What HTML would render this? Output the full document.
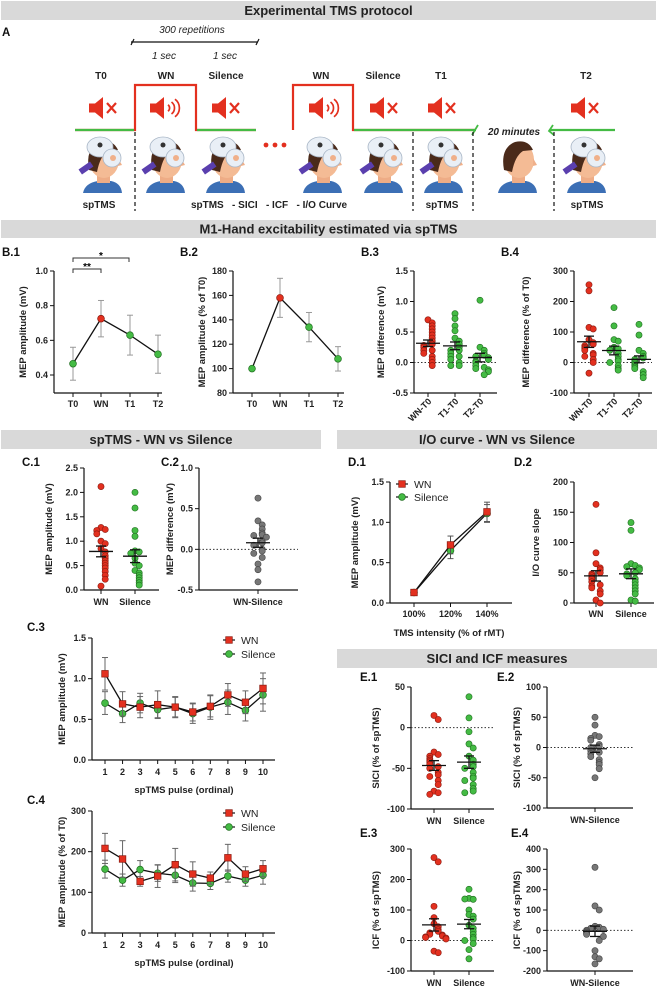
<!DOCTYPE html>
<html><head><meta charset="utf-8"><style>
html,body{margin:0;padding:0;background:#fff;}
svg{display:block;font-family:"Liberation Sans",Arial,sans-serif;}
</style></head><body>
<svg id="fig" width="657" height="991" viewBox="0 0 657 991"></svg>
<script>
// ===== DATA =====
const b1Cats=['T0','WN','T1','T2'];
const b1Mean=[0.465,0.725,0.63,0.52];
const b1Err=[0.095,0.105,0.115,0.11];
const b1Ticks=[0.4,0.6,0.8,1.0];
const b2Cats=['T0','WN','T1','T2'];
const b2Mean=[100,158,134,108];
const b2Err=[0,16,12,10];
const b2Ticks=[80,100,120,140,160,180];
const b3Cats=['WN-T0','T1-T0','T2-T0'];
const b3WN=[0.7,0.65,0.6,0.55,0.5,0.45,0.4,0.35,0.3,0.28,0.25,0.2,0.2,0.15,0.1,0.05,0.0,-0.05];
const b3T1=[0.8,0.72,0.6,0.52,0.4,0.35,0.3,0.25,0.2,0.2,0.15,0.1,0.1,0.05,0.0,-0.05,-0.05];
const b3T2=[1.02,0.25,0.2,0.15,0.12,0.1,0.08,0.05,0.02,0.0,-0.05,-0.08,-0.1,-0.12,-0.15,-0.2];
const b3Ticks=[-0.5,0.0,0.5,1.0,1.5];
const b4WN=[255,235,115,110,75,65,60,55,50,45,40,30,25,20,10,0,-35];
const b4T1=[180,120,75,70,50,45,40,30,20,10,5,0,-10,-20,-25];
const b4T2=[125,90,40,30,20,15,10,5,0,-5,-10,-15,-20,-30,-40,-50];
const b4Ticks=[-100,0,100,200,300];
const c1Cats=['WN','Silence'];
const c1WN=[2.12,1.28,1.24,1.22,1.15,1.0,0.95,0.85,0.78,0.7,0.65,0.6,0.55,0.5,0.45,0.38,0.3,0.22,0.08];
const c1Sil=[2.0,1.68,1.22,1.1,0.8,0.78,0.75,0.65,0.55,0.5,0.4,0.35,0.3,0.25,0.2,0.15,0.1];
const c1Ticks=[0,0.5,1.0,1.5,2.0,2.5];
const c2Cats=['WN-Silence'];
const c2Diff=[0.63,0.35,0.3,0.25,0.2,0.18,0.17,0.15,0.1,0.08,0.05,0.0,-0.02,-0.05,-0.1,-0.18,-0.25,-0.4];
const c2Ticks=[-0.5,0.0,0.5,1.0];
const d1Int=[100,120,140];
const d1XLabels=['100%','120%','140%'];
const d1WN=[0.13,0.72,1.13];
const d1WNErr=[0.01,0.11,0.12];
const d1Sil=[0.13,0.65,1.11];
const d1SilErr=[0.01,0.1,0.11];
const d1Ticks=[0,0.5,1.0,1.5];
const d2WN=[163,83,65,58,55,50,48,45,42,40,35,30,28,25,20,15,5,0];
const d2Sil=[133,120,65,62,60,58,55,50,48,45,40,35,30,25,20,15,5,3];
const d2Ticks=[0,50,100,150,200];
const pulses=[1,2,3,4,5,6,7,8,9,10];
const c3WN=[1.06,0.69,0.65,0.68,0.65,0.59,0.66,0.80,0.71,0.88];
const c3WNErr=[0.2,0.15,0.13,0.17,0.13,0.11,0.13,0.14,0.14,0.19];
const c3Sil=[0.70,0.57,0.70,0.62,0.65,0.57,0.65,0.71,0.61,0.80];
const c3SilErr=[0.14,0.11,0.12,0.1,0.12,0.12,0.15,0.15,0.13,0.2];
const c3Ticks=[0,0.5,1.0,1.5];
const c4WN=[208,182,127,140,168,145,135,185,145,158];
const c4WNErr=[37,45,12,28,40,30,15,33,18,20];
const c4Sil=[157,130,156,147,142,123,122,140,130,142];
const c4SilErr=[22,15,22,20,18,20,15,15,15,22];
const c4Ticks=[0,100,200,300];
const e1WN=[15,10,-30,-33,-35,-38,-40,-42,-45,-48,-50,-55,-58,-60,-65,-70,-78,-80,-82];
const e1Sil=[38,12,-5,-20,-25,-35,-40,-45,-48,-50,-55,-60,-62,-65,-70,-75,-78,-80];
const e1Ticks=[-100,-50,0,50];
const e2Diff=[50,37,20,18,15,12,5,2,0,-5,-8,-10,-15,-20,-25,-28,-35,-50];
const e2Ticks=[-100,-50,0,50,100];
const e3WN=[272,258,112,75,55,45,35,30,25,20,18,15,12,10,8,5,-35,-40];
const e3Sil=[168,138,135,136,100,85,80,70,50,40,30,20,10,5,0,-10,-30,-60];
const e3Ticks=[-100,0,100,200,300];
const e4Diff=[310,120,100,20,15,10,5,0,-5,-10,-15,-20,-30,-50,-100,-130,-140,-165];
const e4Ticks=[-200,-100,0,100,200,300,400];

// ===== HELPERS =====
const NS='http://www.w3.org/2000/svg';
const svg=document.getElementById('fig');
const RED='#e3301f', GREEN='#44bb44', GRAY='#777', REDS='#8a1a10', GREENS='#1f6e1f';
function mk(tag,attrs,parent){const e=document.createElementNS(NS,tag);for(const k in attrs)e.setAttribute(k,attrs[k]);(parent||svg).appendChild(e);return e;}
function txt(x,y,s,attrs,parent){const t=mk('text',Object.assign({x:x,y:y},attrs||{}),parent);t.textContent=s;return t;}
function lin(v0,p0,v1,p1){return v=>p0+(v-v0)*(p1-p0)/(v1-v0);}
function fmt(v,d){return d?v.toFixed(d):String(v);}
function mean(a){return a.reduce((s,v)=>s+v,0)/a.length;}
function sem(a){const m=mean(a);return Math.sqrt(a.reduce((s,v)=>s+(v-m)*(v-m),0)/(a.length-1))/Math.sqrt(a.length);}

function banner(x,y,w,h,s,name){
  const g=mk('g',{});
  
  
  mk('rect',{x:x,y:y,width:w,height:h,fill:'#d9d9d9'},g);
  txt(x+w/2,y+h/2+4.5,s,{'text-anchor':'middle','font-size':'13','font-weight':'bold',fill:'#222'},g);
}
function panelLabel(x,y,s){
  const t=txt(x,y,s,{'font-size':'11.5','font-weight':'bold',fill:'#111'});
  
  
}
function axes(g,o){
  const ya=mk('line',{x1:o.ax,y1:o.yTop,x2:o.ax,y2:o.yBot,stroke:'#111','stroke-width':1.2},g);
  
  
  const xa=mk('line',{x1:o.ax,y1:o.yBot,x2:o.axEnd,y2:o.yBot,stroke:'#111','stroke-width':1.2},g);
  
  
  o.ticks.forEach(v=>{
    const yy=o.ys(v);
    mk('line',{x1:o.ax-4,y1:yy,x2:o.ax,y2:yy,stroke:'#111','stroke-width':1},g);
    const t=txt(o.ax-6,yy+3,fmt(v,o.dec),{'text-anchor':'end','font-size':'9','font-weight':'bold',fill:'#222'},g);
    
    
  });
  o.xt.forEach((x,i)=>{
    mk('line',{x1:x,y1:o.yBot,x2:x,y2:o.yBot+4,stroke:'#111','stroke-width':1},g);
    if(!o.xl) return;
    let t;
    if(o.rot){
      t=txt(x+4,o.yBot+9,o.xl[i],{'text-anchor':'end','font-size':'9','font-weight':'bold',fill:'#222',transform:'rotate(-45 '+(x+4)+' '+(o.yBot+9)+')'},g);
    } else {
      t=txt(x,o.labY,o.xl[i],{'text-anchor':'middle','font-size':'9','font-weight':'bold',fill:'#222'},g);
    }
    
    
  });
  const yl=txt(o.ylx,(o.yTop+o.yBot)/2,o.ylabel,{'text-anchor':'middle','font-size':'9.5','font-weight':'bold',fill:'#222',transform:'rotate(-90 '+o.ylx+' '+((o.yTop+o.yBot)/2)+')'},g);
  
  
  if(o.zero){
    const z=mk('line',{x1:o.ax,y1:o.ys(0),x2:o.axEnd,y2:o.ys(0),stroke:'#333','stroke-width':1,'stroke-dasharray':'1.5 2'},g);
    
    
  }
}
function scatter(g,cx,vals,ys,fill,stroke,name){
  const placed=[];
  vals.forEach(v=>{
    const yy=ys(v);
    const k=placed.filter(p=>Math.abs(p-yy)<4.5).length;
    placed.push(yy);
    const off=k===0?0:(k%2?1:-1)*Math.min(Math.ceil(k/2)*4.2,12);
    const c=mk('circle',{cx:cx+off,cy:yy,r:3.1,fill:fill,stroke:stroke,'stroke-width':0.6},g);
    
    
  });
  const m=mean(vals),s=sem(vals);
  const mg=mk('g',{stroke:'#111','stroke-width':1.3},g);
  
  
  mk('line',{x1:cx-12,y1:ys(m),x2:cx+12,y2:ys(m)},mg);
  mk('line',{x1:cx,y1:ys(m-s),x2:cx,y2:ys(m+s)},mg);
  mk('line',{x1:cx-5,y1:ys(m+s),x2:cx+5,y2:ys(m+s)},mg);
  mk('line',{x1:cx-5,y1:ys(m-s),x2:cx+5,y2:ys(m-s)},mg);
}
function series(g,xs,vals,errs,ys,fills,strokes,shape,name,errColor){
  const eg=mk('g',{stroke:errColor,'stroke-width':1},g);
  
  
  vals.forEach((v,i)=>{
    if(!errs[i]) return;
    mk('line',{x1:xs[i],y1:ys(v-errs[i]),x2:xs[i],y2:ys(v+errs[i])},eg);
    mk('line',{x1:xs[i]-3,y1:ys(v+errs[i]),x2:xs[i]+3,y2:ys(v+errs[i])},eg);
    mk('line',{x1:xs[i]-3,y1:ys(v-errs[i]),x2:xs[i]+3,y2:ys(v-errs[i])},eg);
  });
  const pts=vals.map((v,i)=>xs[i]+','+ys(v)).join(' ');
  const pl=mk('polyline',{points:pts,fill:'none',stroke:'#111','stroke-width':1.3},g);
  
  
  vals.forEach((v,i)=>{
    let m;
    if(shape==='sq') m=mk('rect',{x:xs[i]-3.3,y:ys(v)-3.3,width:6.6,height:6.6,fill:fills[i],stroke:strokes[i],'stroke-width':0.7},g);
    else m=mk('circle',{cx:xs[i],cy:ys(v),r:3.4,fill:fills[i],stroke:strokes[i],'stroke-width':0.7},g);
    
    
  });
}
function legend(g,x,y1,y2){
  mk('line',{x1:x-6,y1:y1,x2:x+6,y2:y1,stroke:'#111','stroke-width':1.2},g);
  mk('rect',{x:x-3.3,y:y1-3.3,width:6.6,height:6.6,fill:RED,stroke:REDS,'stroke-width':0.7},g);
  const t1=txt(x+12,y1+4,'WN',{'font-size':'10.5',fill:'#222'},g);
  
  
  mk('line',{x1:x-6,y1:y2,x2:x+6,y2:y2,stroke:'#111','stroke-width':1.2},g);
  mk('circle',{cx:x,cy:y2,r:3.4,fill:GREEN,stroke:GREENS,'stroke-width':0.7},g);
  const t2=txt(x+12,y2+4,'Silence',{'font-size':'10.5',fill:'#222'},g);
  
  
}
function newPanel(name){const g=mk('g',{});return g;}

// ===== SECTION A =====
banner(1,1,655,19,'Experimental TMS protocol','banner-protocol');
panelLabel(2,36,'A');
function speaker(cx,cy,sound){
  const g=mk('g',{transform:'translate('+cx+','+cy+')'});
  
  
  mk('rect',{x:-14,y:-4.5,width:6,height:9,fill:RED},g);
  mk('polygon',{points:'-8,-4.5 0,-11 0,11 -8,4.5',fill:RED},g);
  if(sound){
    [4,7.5,11].forEach(r=>mk('path',{d:'M '+(r)+' '+(-r*0.8)+' A '+r+' '+r+' 0 0 1 '+r+' '+(r*0.8),fill:'none',stroke:RED,'stroke-width':1.7},g));
  } else {
    mk('path',{d:'M4 -5 L13 5 M4 5 L13 -5',stroke:RED,'stroke-width':2.2,fill:'none'},g);
  }
}
function head(cx,coil){
  const g=mk('g',{});
  
  
  mk('path',{d:'M'+(cx-20)+' 193 Q'+(cx-18)+' 183 '+(cx-5)+' 181 L'+(cx+8)+' 181 Q'+(cx+18)+' 183 '+(cx+19)+' 193 Z',fill:'#3c6fb5'},g);
  mk('rect',{x:cx-6,y:171,width:13,height:12,fill:'#eeac86'},g);
  mk('ellipse',{cx:cx+1,cy:160,rx:15,ry:18,fill:'#f4bb95'},g);
  mk('path',{d:'M'+(cx+15)+' 158 L'+(cx+19)+' 165 L'+(cx+15)+' 166 Z',fill:'#f0b08a'},g);
  mk('path',{d:'M'+(cx-14)+' 170 Q'+(cx-18)+' 148 '+(cx-3)+' 142 Q'+(cx+10)+' 139 '+(cx+15)+' 150 L'+(cx+5)+' 151 Q'+(cx-3)+' 156 '+(cx-6)+' 172 Z',fill:'#4a2a1a'},g);
  if(coil){
    mk('rect',{x:cx-24,y:165,width:14,height:6,fill:'#5a3fae',transform:'rotate(-35 '+(cx-17)+' 168)'},g);
    mk('ellipse',{cx:cx-3,cy:147,rx:13,ry:10,fill:'#e9eff6',stroke:'#a8b6c6','stroke-width':0.8},g);
    mk('ellipse',{cx:cx+9,cy:158,rx:9,ry:9,fill:'#e9eff6',stroke:'#a8b6c6','stroke-width':0.8},g);
    mk('circle',{cx:cx-3,cy:145,r:2.5,fill:'#333'},g);
    mk('circle',{cx:cx+10,cy:158,r:3,fill:'#f0b08a'},g);
  }
}
const wave=mk('path',{d:'M75 130 H135 V85 H196 V130 H256 M293 130 V85 H353 V130 H476',fill:'none',stroke:RED,'stroke-width':2.2});


const gl=mk('path',{d:'M75 130 H134 M197 130 H256 M354 130 H476 M550 130 H615',fill:'none',stroke:GREEN,'stroke-width':2.2});


mk('path',{d:'M472 135 L478 125 M471 130 L476 130',stroke:GREEN,'stroke-width':1.8,fill:'none'});
mk('path',{d:'M553 125 L549 131 L554 135',stroke:GREEN,'stroke-width':1.8,fill:'none'});
txt(514,135,'20  minutes',{'text-anchor':'middle','font-size':'10','font-weight':'bold','font-style':'italic',fill:'#222'});
mk('path',{d:'M131 45 L134 39 M131 42 H258 M256 45 L259 39',stroke:'#111','stroke-width':1.2,fill:'none'});
txt(192,33,'300 repetitions',{'text-anchor':'middle','font-size':'10','font-style':'italic',fill:'#222'});
txt(164,59,'1 sec',{'text-anchor':'middle','font-size':'10','font-style':'italic',fill:'#222'});
txt(225,59,'1 sec',{'text-anchor':'middle','font-size':'10','font-style':'italic',fill:'#222'});
[[101,'T0'],[166,'WN'],[226,'Silence'],[321,'WN'],[383,'Silence'],[441,'T1'],[586,'T2']].forEach(a=>{
  const t=txt(a[0],79,a[1],{'text-anchor':'middle','font-size':'10','font-weight':'bold',fill:'#222'});
  
  
});
speaker(103,108,false);speaker(164,108,true);speaker(226,108,false);
speaker(323,108,true);speaker(384,108,false);speaker(442,108,false);speaker(585,108,false);
[103,166,226,323,384,444,587].forEach(x=>head(x,true));
head(518,false);
[266,275,284].forEach(x=>mk('circle',{cx:x,cy:145,r:2.4,fill:RED}));
[135,413,473,554].forEach(x=>{
  const d=mk('line',{x1:x,y1:132,x2:x,y2:211,stroke:'#111','stroke-width':1.2,'stroke-dasharray':'4 3'});
  
  
});
[[99,'spTMS'],[269,'spTMS   - SICI   - ICF   - I/O Curve'],[442,'spTMS'],[587,'spTMS']].forEach(a=>{
  const t=txt(a[0],208,a[1],{'text-anchor':'middle','font-size':'10','font-weight':'bold',fill:'#222','style':'white-space:pre'});
  
  
});

// ===== SECTION B =====
banner(1,220,655,18,'M1-Hand excitability estimated via spTMS','banner-m1-excitability');
panelLabel(2,256,'B.1');panelLabel(180,256,'B.2');panelLabel(361,256,'B.3');panelLabel(501,256,'B.4');
const catColB=[GREEN,RED,GREEN,GREEN], catStrB=[GREENS,REDS,GREENS,GREENS];
(function(){
  const g=newPanel('chart-b1');
  const ys=lin(1.0,271,0.4,375), xs=[73,101,130,158];
  axes(g,{ax:54,axEnd:162,yTop:271,yBot:393,ys:ys,ticks:b1Ticks,dec:1,xt:xs,xl:b1Cats,labY:407,ylx:26,ylabel:'MEP amplitude (mV)'});
  series(g,xs,b1Mean,b1Err,ys,catColB,catStrB,'c','b1','#999');
  mk('path',{d:'M73 262 V258 H129 V262 M73 273 V269 H101 V273',stroke:'#333','stroke-width':1,fill:'none'},g);
  txt(101,259,'*',{'text-anchor':'middle','font-size':'10','font-weight':'bold'},g);
  txt(87,270,'**',{'text-anchor':'middle','font-size':'10','font-weight':'bold'},g);
})();
(function(){
  const g=newPanel('chart-b2');
  const ys=lin(180,271,80,393), xs=[252,280,309,338];
  axes(g,{ax:233,axEnd:344,yTop:271,yBot:393,ys:ys,ticks:b2Ticks,dec:0,xt:xs,xl:b2Cats,labY:407,ylx:205,ylabel:'MEP amplitude (% of T0)'});
  series(g,xs,b2Mean,b2Err,ys,catColB,catStrB,'c','b2','#999');
})();
(function(){
  const g=newPanel('chart-b3');
  const ys=lin(1.5,271,-0.5,393), xs=[428,455,480];
  axes(g,{ax:414,axEnd:497,yTop:271,yBot:393,ys:ys,ticks:b3Ticks,dec:1,xt:xs,xl:b3Cats,rot:true,ylx:384,ylabel:'MEP difference (mV)',zero:true});
  scatter(g,xs[0],b3WN,ys,RED,REDS,'b3-wn-t0');
  scatter(g,xs[1],b3T1,ys,GREEN,GREENS,'b3-t1-t0');
  scatter(g,xs[2],b3T2,ys,GREEN,GREENS,'b3-t2-t0');
})();
(function(){
  const g=newPanel('chart-b4');
  const ys=lin(300,271,-100,393), xs=[589,614,639];
  axes(g,{ax:574,axEnd:652,yTop:271,yBot:393,ys:ys,ticks:b4Ticks,dec:0,xt:xs,xl:b3Cats,rot:true,ylx:529,ylabel:'MEP difference (% of T0)',zero:true});
  scatter(g,xs[0],b4WN,ys,RED,REDS,'b4-wn-t0');
  scatter(g,xs[1],b4T1,ys,GREEN,GREENS,'b4-t1-t0');
  scatter(g,xs[2],b4T2,ys,GREEN,GREENS,'b4-t2-t0');
})();

// ===== SECTION C / D =====
banner(1,430,320,19,'spTMS - WN vs Silence','banner-sptms-wn-vs-silence');
banner(337,430,320,19,'I/O curve - WN vs Silence','banner-io-curve');
panelLabel(22,466,'C.1');panelLabel(161,466,'C.2');panelLabel(348,466,'D.1');panelLabel(514,466,'D.2');
(function(){
  const g=newPanel('chart-c1');
  const ys=lin(2.5,468,0,590), xs=[101,135];
  axes(g,{ax:84,axEnd:159,yTop:468,yBot:590,ys:ys,ticks:c1Ticks,dec:1,xt:xs,xl:c1Cats,labY:605,ylx:52,ylabel:'MEP amplitude (mV)'});
  scatter(g,xs[0],c1WN,ys,RED,REDS,'c1-wn');
  scatter(g,xs[1],c1Sil,ys,GREEN,GREENS,'c1-silence');
})();
(function(){
  const g=newPanel('chart-c2');
  const ys=lin(1,468,-0.5,590), xs=[258];
  axes(g,{ax:199,axEnd:298,yTop:468,yBot:590,ys:ys,ticks:c2Ticks,dec:1,xt:xs,xl:c2Cats,labY:605,ylx:173,ylabel:'MEP difference (mV)',zero:true});
  scatter(g,xs[0],c2Diff,ys,GRAY,'#444','c2-diff');
})();
(function(){
  const g=newPanel('chart-d1');
  const ys=lin(1.5,482,0,603), xsc=lin(100,414,140,487), xs=d1Int.map(xsc);
  axes(g,{ax:390,axEnd:512,yTop:482,yBot:603,ys:ys,ticks:d1Ticks,dec:1,xt:xs,xl:d1XLabels,labY:617,ylx:358,ylabel:'MEP amplitude (mV)'});
  series(g,xs,d1Sil,d1SilErr,ys,[GREEN,GREEN,GREEN],[GREENS,GREENS,GREENS],'c','d1-silence','#555');
  series(g,xs,d1WN,d1WNErr,ys,[RED,RED,RED],[REDS,REDS,REDS],'sq','d1-wn','#555');
  legend(g,402,484,497);
  const xl=txt(449,636,'TMS intensity (% of rMT)',{'text-anchor':'middle','font-size':'9.5','font-weight':'bold',fill:'#222'},g);
  
  
})();
(function(){
  const g=newPanel('chart-d2');
  const ys=lin(200,482,0,603), xs=[596,631];
  axes(g,{ax:574,axEnd:654,yTop:482,yBot:603,ys:ys,ticks:d2Ticks,dec:0,xt:xs,xl:c1Cats,labY:617,ylx:539,ylabel:'I/O curve slope'});
  scatter(g,xs[0],d2WN,ys,RED,REDS,'d2-wn');
  scatter(g,xs[1],d2Sil,ys,GREEN,GREENS,'d2-silence');
})();
panelLabel(27,631,'C.3');panelLabel(27,804,'C.4');
function pulseChart(name,ys,yTop,yBot,ticks,dec,ylabel,wn,wnE,sil,silE,legY){
  const g=newPanel(name);
  const xsc=lin(1,105,10,263), xs=pulses.map(xsc);
  axes(g,{ax:92,axEnd:275,yTop:yTop,yBot:yBot,ys:ys,ticks:ticks,dec:dec,xt:xs,xl:pulses.map(String),labY:yBot+15,ylx:65,ylabel:ylabel});
  series(g,xs,sil,silE,ys,pulses.map(()=>GREEN),pulses.map(()=>GREENS),'c',name+'-silence','#666');
  series(g,xs,wn,wnE,ys,pulses.map(()=>RED),pulses.map(()=>REDS),'sq',name+'-wn','#666');
  legend(g,229,legY,legY+14);
  const xl=txt(184,yBot+33,'spTMS pulse (ordinal)',{'text-anchor':'middle','font-size':'9.5','font-weight':'bold',fill:'#222'},g);
  
  
}
pulseChart('chart-c3',lin(1.5,638,0,760),638,760,c3Ticks,1,'MEP amplitude (mV)',c3WN,c3WNErr,c3Sil,c3SilErr,640);
pulseChart('chart-c4',lin(300,811,0,933),811,933,c4Ticks,0,'MEP amplitude (% of T0)',c4WN,c4WNErr,c4Sil,c4SilErr,813);

// ===== SECTION E =====
banner(337,649,320,19,'SICI and ICF measures','banner-sici-icf');
panelLabel(360,681,'E.1');panelLabel(497,681,'E.2');panelLabel(360,837,'E.3');panelLabel(511,837,'E.4');
(function(){
  const g=newPanel('chart-e1');
  const ys=lin(50,687,-100,809), xs=[434,469];
  axes(g,{ax:411,axEnd:494,yTop:687,yBot:809,ys:ys,ticks:e1Ticks,dec:0,xt:xs,xl:c1Cats,labY:824,ylx:379,ylabel:'SICI (% of spTMS)',zero:true});
  scatter(g,xs[0],e1WN,ys,RED,REDS,'e1-wn');
  scatter(g,xs[1],e1Sil,ys,GREEN,GREENS,'e1-silence');
})();
(function(){
  const g=newPanel('chart-e2');
  const ys=lin(100,687,-100,808), xs=[595];
  axes(g,{ax:547,axEnd:633,yTop:687,yBot:808,ys:ys,ticks:e2Ticks,dec:0,xt:xs,xl:c2Cats,labY:823,ylx:520,ylabel:'SICI (% of spTMS)',zero:true});
  scatter(g,xs[0],e2Diff,ys,GRAY,'#444','e2-diff');
})();
(function(){
  const g=newPanel('chart-e3');
  const ys=lin(300,849,-100,971), xs=[434,469];
  axes(g,{ax:411,axEnd:494,yTop:849,yBot:971,ys:ys,ticks:e3Ticks,dec:0,xt:xs,xl:c1Cats,labY:986,ylx:379,ylabel:'ICF (% of spTMS)',zero:true});
  scatter(g,xs[0],e3WN,ys,RED,REDS,'e3-wn');
  scatter(g,xs[1],e3Sil,ys,GREEN,GREENS,'e3-silence');
})();
(function(){
  const g=newPanel('chart-e4');
  const ys=lin(400,849,-200,971), xs=[595];
  axes(g,{ax:547,axEnd:633,yTop:849,yBot:971,ys:ys,ticks:e4Ticks,dec:0,xt:xs,xl:c2Cats,labY:986,ylx:520,ylabel:'ICF (% of spTMS)',zero:true});
  scatter(g,xs[0],e4Diff,ys,GRAY,'#444','e4-diff');
})();
</script>
</body></html>
